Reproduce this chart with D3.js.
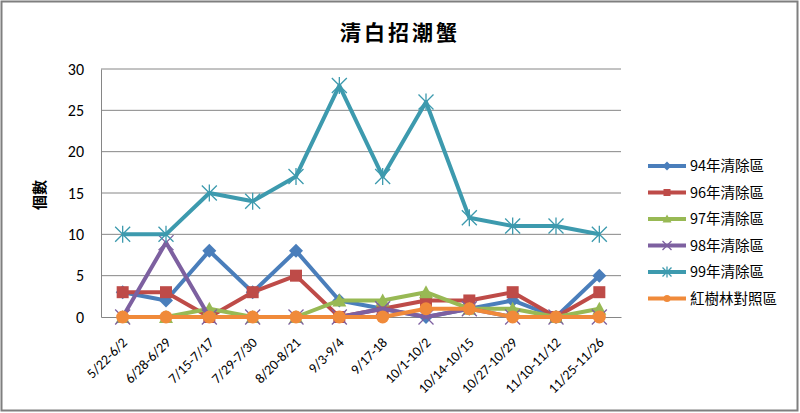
<!DOCTYPE html>
<html>
<head>
<meta charset="utf-8">
<script src="https://cdn.jsdelivr.net/npm/d3@7"></script>
<style>
  body { margin: 0; background: #fff; }
  svg { display: block; font-family: "Noto Sans CJK TC", "Noto Sans", sans-serif; }
</style>
</head>
<body>
<div id="chart"></div>
<script>
// data
const categories = ["5/22-6/2", "6/28-6/29", "7/15-7/17", "7/29-7/30", "8/20-8/21", "9/3-9/4",
  "9/17-18", "10/1-10/2", "10/14-10/15", "10/27-10/29", "11/10-11/12", "11/25-11/26"];
const seriesNames = ["94年清除區", "96年清除區", "97年清除區", "98年清除區", "99年清除區", "紅樹林對照區"];
const s94 = [3, 2, 8, 3, 8, 2, 1, 0, 1, 2, 0, 5];
const s96 = [3, 3, 0, 3, 5, 0, 1, 2, 2, 3, 0, 3];
const s97 = [0, 0, 1, 0, 0, 2, 2, 3, 1, 1, 0, 1];
const s98 = [0, 9, 0, 0, 0, 0, 1, 0, 1, 0, 0, 0];
const s99 = [10, 10, 15, 14, 17, 28, 17, 26, 12, 11, 11, 10];
const sRef = [0, 0, 0, 0, 0, 0, 0, 1, 1, 0, 0, 0];
const yTicks = [0, 5, 10, 15, 20, 25, 30];

const colors = ["#4a7ebb", "#be4b48", "#98b954", "#7d60a0", "#3d9aae", "#f08a3a"];
const markers = ["diamond", "square", "triangle", "x", "star", "circle"];
const series = [s94, s96, s97, s98, s99, sRef].map((v, i) => ({
  name: seriesNames[i], values: v, color: colors[i], marker: markers[i]
}));

const W = 800, H = 413;
const plot = { left: 101, right: 621, top: 69, bottom: 317 };

const svg = d3.select("#chart").append("svg")
  .attr("width", W).attr("height", H);

// outer chart border
svg.append("rect")
  .attr("x", 1.5).attr("y", 1.5)
  .attr("width", W - 4).attr("height", H - 4)
  .attr("fill", "#fff")
  .attr("stroke", "#7f7f7f")
  .attr("stroke-width", 2);

const x = d3.scaleBand().domain(categories).range([plot.left, plot.right]);
const y = d3.scaleLinear().domain([0, 30]).range([plot.bottom, plot.top]);
const cx = d => x(d) + x.bandwidth() / 2;

// gridlines
svg.append("g")
  .selectAll("line")
  .data(yTicks.filter(t => t > 0))
  .enter().append("line")
  .attr("x1", plot.left).attr("x2", plot.right)
  .attr("y1", d => y(d)).attr("y2", d => y(d))
  .attr("stroke", "#868686").attr("stroke-width", 1);

// y axis
const yAxis = svg.append("g")
  .attr("transform", `translate(${plot.left},0)`)
  .call(d3.axisLeft(y).tickValues(yTicks).tickSize(0).tickPadding(17));
yAxis.select(".domain").attr("stroke", "#868686");
yAxis.selectAll("text")
  .style("font-family", "Carlito, 'Liberation Sans', sans-serif")
  .style("font-size", "16px").attr("fill", "#000");

// x axis
const xAxis = svg.append("g")
  .attr("transform", `translate(0,${plot.bottom})`)
  .call(d3.axisBottom(x).tickSize(0).tickPadding(0));
xAxis.select(".domain").attr("stroke", "#868686");
xAxis.selectAll("text")
  .style("font-family", "Carlito, 'Liberation Sans', sans-serif")
  .style("font-size", "14px").attr("fill", "#000")
  .attr("text-anchor", "end")
  .attr("dy", "0.35em")
  .attr("transform", "translate(2,23) rotate(-45)");

// lines
const line = d3.line()
  .x((d, i) => cx(categories[i]))
  .y(d => y(d));

function drawMarker(g, type, color, size) {
  const r = size / 2;
  if (type === "diamond") {
    g.append("path").attr("d", `M0,${-r - 1}L${r + 1},0L0,${r + 1}L${-r - 1},0Z`).attr("fill", color);
  } else if (type === "square") {
    g.append("rect").attr("x", -r).attr("y", -r).attr("width", size).attr("height", size).attr("fill", color);
  } else if (type === "triangle") {
    g.append("path").attr("d", `M0,${-r - 1}L${r + 1},${r}L${-r - 1},${r}Z`).attr("fill", color);
  } else if (type === "circle") {
    g.append("circle").attr("r", r).attr("fill", color);
  } else if (type === "x") {
    g.append("path").attr("d", `M${-r},${-r}L${r},${r}M${r},${-r}L${-r},${r}`)
      .attr("stroke", color).attr("stroke-width", 1.3).attr("fill", "none");
  } else if (type === "star") {
    g.append("path").attr("d", `M${-r},${-r}L${r},${r}M${r},${-r}L${-r},${r}M0,${-r - 1}L0,${r + 1}`)
      .attr("stroke", color).attr("stroke-width", 1.3).attr("fill", "none");
  }
}

series.forEach(s => {
  const g = svg.append("g").attr("class", "series");
  g.append("path")
    .datum(s.values)
    .attr("d", line)
    .attr("fill", "none")
    .attr("stroke", s.color)
    .attr("stroke-width", 4)
    .attr("stroke-linejoin", "round");
  g.selectAll("g.mk")
    .data(s.values)
    .enter().append("g")
    .attr("class", "mk")
    .attr("transform", (d, i) => `translate(${cx(categories[i])},${y(d)})`)
    .each(function () {
      const sz = s.marker === "x" || s.marker === "star" ? 15 : 12;
      drawMarker(d3.select(this), s.marker, s.color, s.marker === "circle" ? 13 : sz);
    });
});

// title
svg.append("text")
  .attr("x", 400).attr("y", 40)
  .attr("text-anchor", "middle")
  .style("font-size", "21px").style("font-weight", "bold")
  .style("letter-spacing", "3px")
  .text("清白招潮蟹");

// y label
svg.append("text")
  .attr("transform", "translate(45,195) rotate(-90)")
  .attr("text-anchor", "middle")
  .style("font-size", "15px").style("font-weight", "bold")
  .text("個數");

// legend
const legend = svg.append("g").attr("class", "legend");
series.forEach((s, i) => {
  const ly = 166 + i * 26.5;
  const lg = legend.append("g").attr("transform", `translate(0,${ly})`);
  lg.append("line")
    .attr("x1", 648).attr("x2", 686)
    .attr("y1", 0).attr("y2", 0)
    .attr("stroke", s.color).attr("stroke-width", 4);
  const m = lg.append("g").attr("transform", "translate(667,0)");
  drawMarker(m, s.marker, s.color, s.marker === "x" || s.marker === "star" ? 9 : 7);
  lg.append("text")
    .attr("x", 690).attr("y", 0)
    .attr("dy", "0.35em")
    .style("font-size", "14.5px")
    .text(s.name);
});
</script>
</body>
</html>
